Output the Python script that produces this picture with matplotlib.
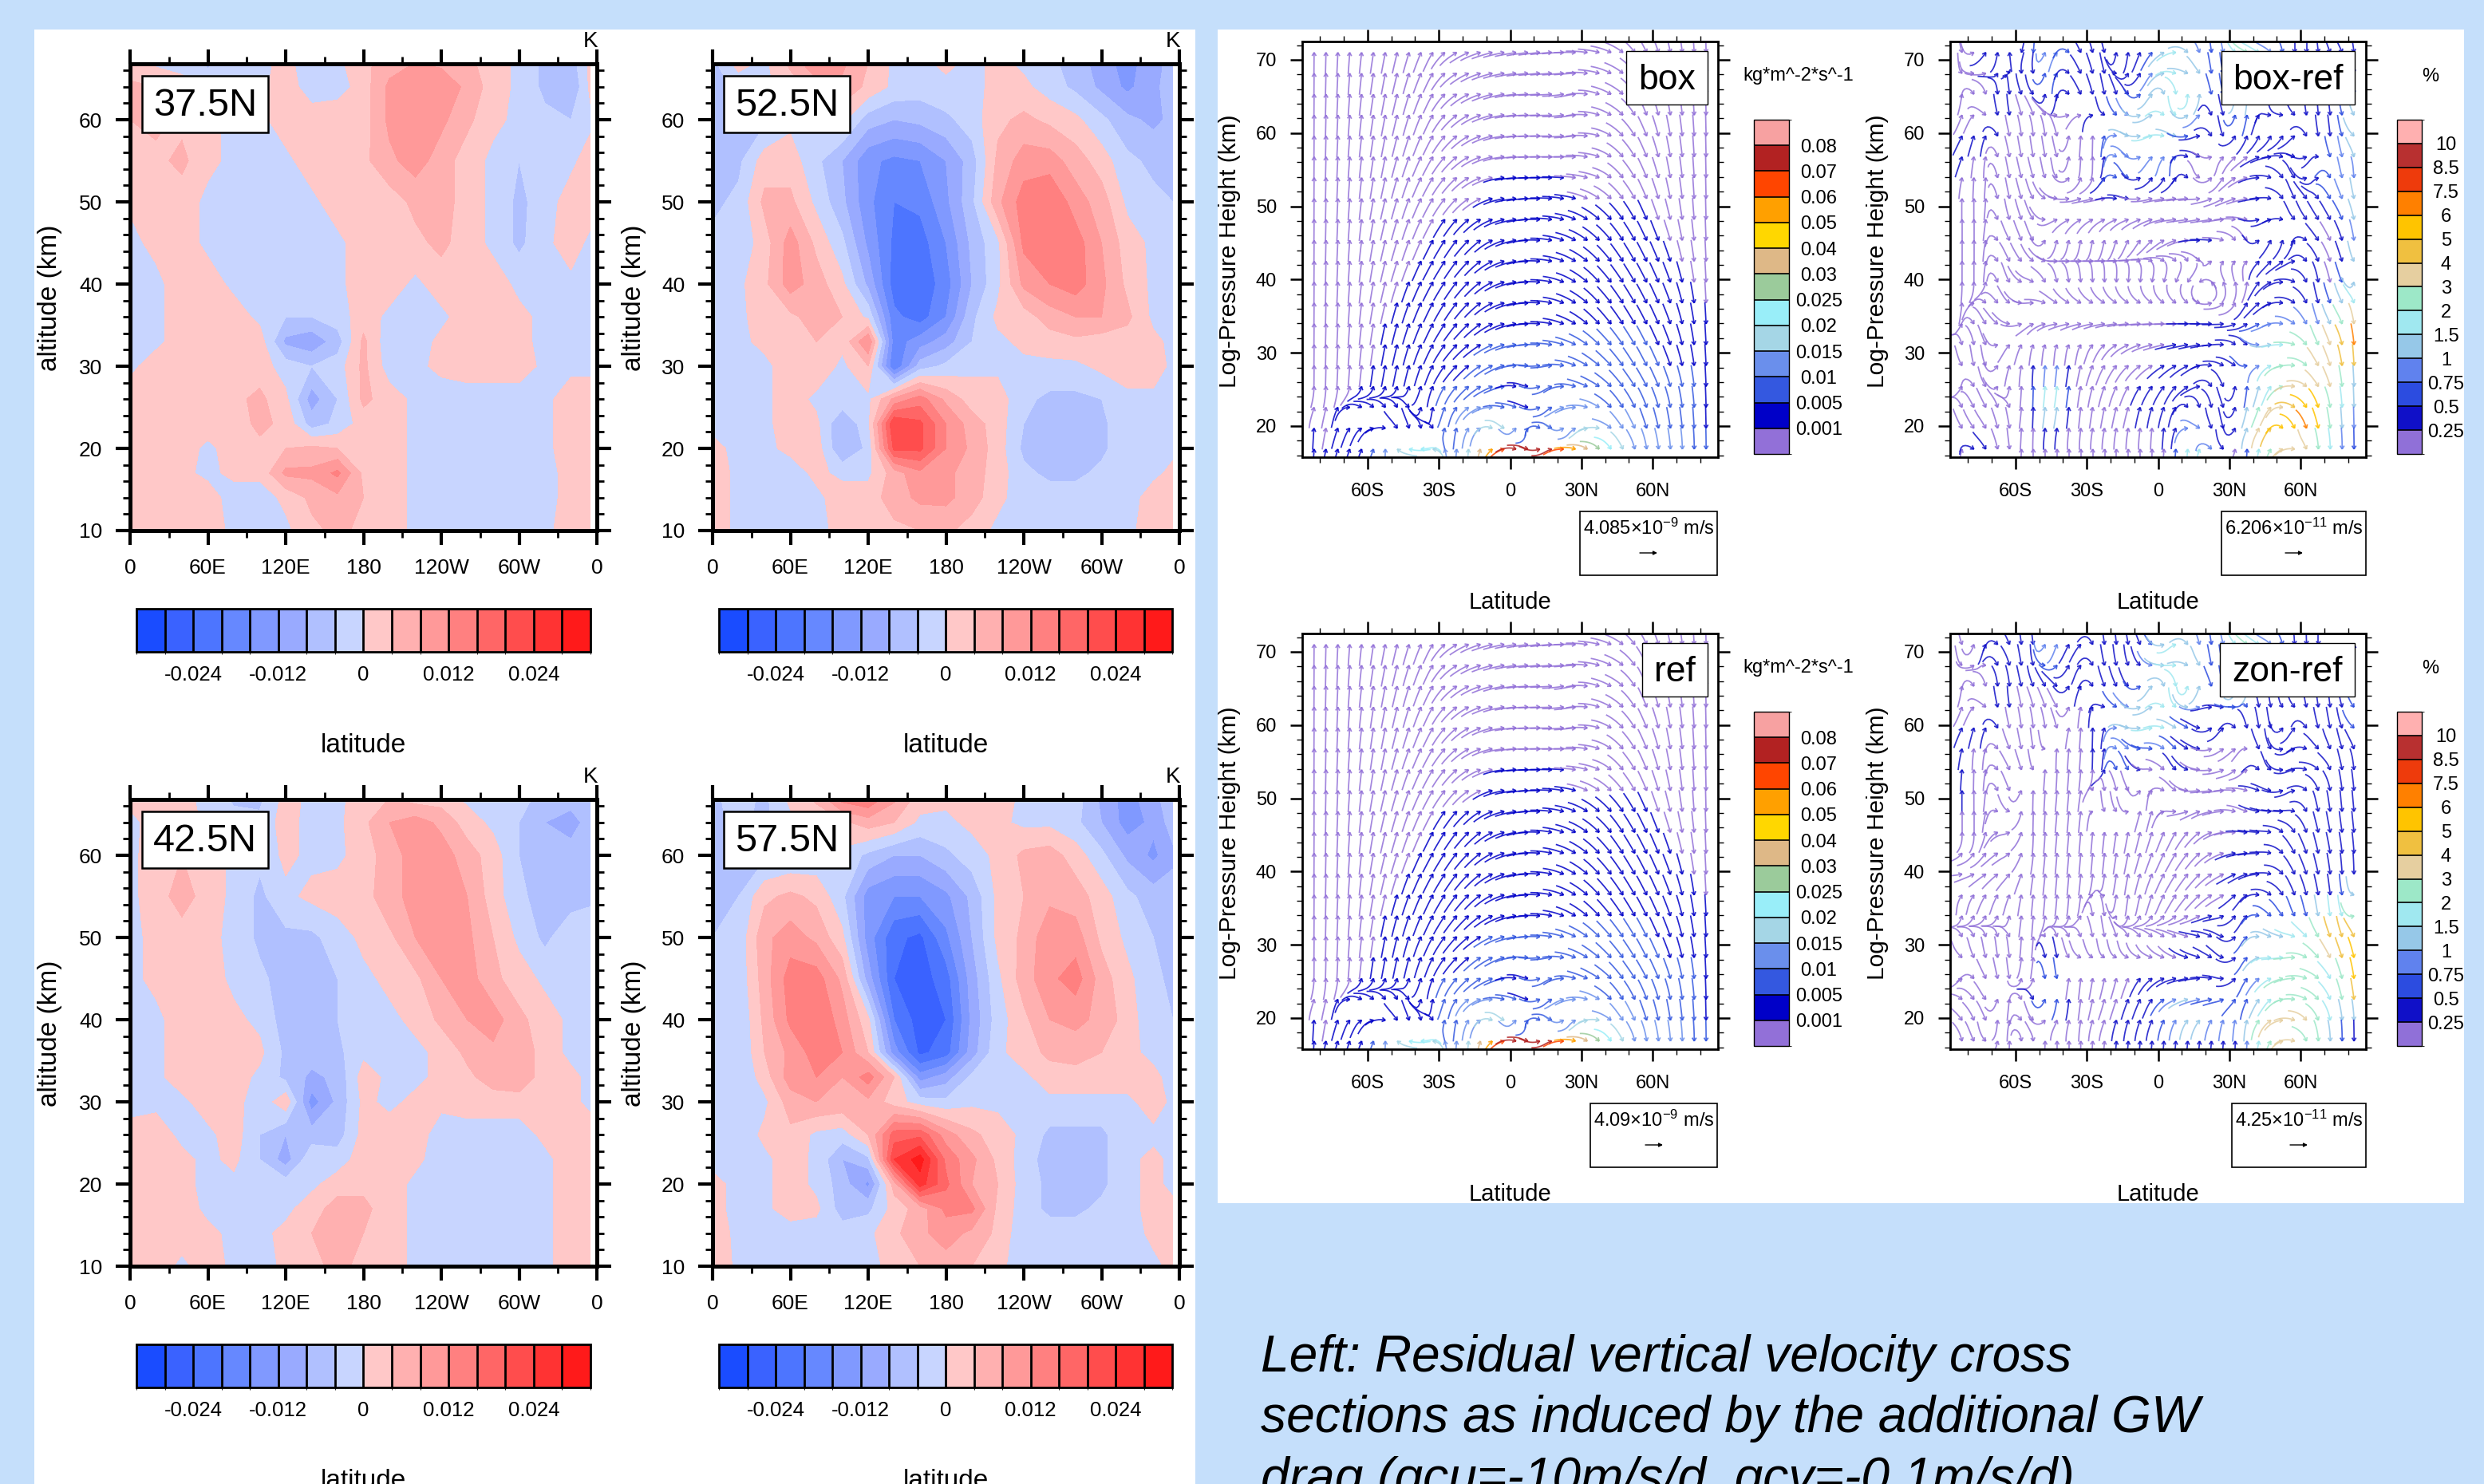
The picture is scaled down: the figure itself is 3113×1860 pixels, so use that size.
"""Residual vertical velocity cross sections and curly vector panels"""
import numpy as np
import matplotlib
matplotlib.use('Agg')
import matplotlib.pyplot as plt
from matplotlib.collections import LineCollection
from matplotlib.colors import BoundaryNorm, ListedColormap
from matplotlib.colorbar import Colorbar
from matplotlib.patches import Rectangle, FancyArrowPatch
from matplotlib.ticker import MultipleLocator

plt.rcParams.update({
    'font.family': ['Liberation Sans', 'DejaVu Sans'],
    'mathtext.fontset': 'custom', 'mathtext.rm': 'Liberation Sans',
    'mathtext.default': 'regular', 'axes.unicode_minus': False,
})

W, H = 3113, 1860
BG = '#c5dffb'

# ---- left panels: w* (units of 0.001) ----
lon = [0, 20, 40, 60, 80, 100, 120, 140, 160, 180, 200, 220, 240, 260, 280, 300, 320, 340, 355]
alt = [10, 14, 17, 20, 23, 26, 30, 33, 36, 40, 45, 50, 55, 60, 64, 67]
cont_levels = np.arange(-32, 33, 4)
cont_colors = ['#1a4cff', '#3a62ff', '#4d75ff', '#6688ff', '#8099ff', '#99aaff', '#b0c0ff', '#c8d5ff',
               '#ffc8c8', '#ffb0b0', '#ff9999', '#ff8080', '#ff6666', '#ff4d4d', '#ff3333', '#ff1a1a']
cont_ticks = [-24, -12, 0, 12, 24]
lon_ticks = [0, 60, 120, 180, 240, 300, 360]
lon_labels = ['0', '60E', '120E', '180', '120W', '60W', '0']

w_375 = [
    [2, 2, 2, 2, -1, -2, -1, 3, 5, 3, 2, -1, -2, -2, -2, -2, -1, 2, 2],
    [2, 2, 2, 2, -2, -2, 1, 5, 7, 4, 2, -1, -2, -2, -2, -2, -1, 1, 2],
    [2, 2, 1, -1, 1, 1, 9, 9, 13, 3, 2, -1, -2, -2, -2, -2, -1, 1, 2],
    [2, 2, 2, -1, 2, 3, 4, 5, 4, 1, 2, -1, -2, -2, -2, -2, -1, 2, 2],
    [2, 2, 1, 2, 2, 5, 3, -6, -3, 2, 2, -1, -2, -2, -2, -2, -1, 2, 2],
    [2, 2, 2, 2, 3, 5, 1, -10, -4, 5, 2, -1, -2, -2, -2, -2, -1, 2, 2],
    [-1, 2, 2, 2, 2, 2, -2, -4, -2, 5, -2, -1, 1, 2, 2, 2, -1, -1, -1],
    [-1, -1, 2, 2, 2, 2, -9, -11, -6, 5, -3, -2, 1, 2, 2, 1, -1, -1, -1],
    [-1, -1, 2, 2, 2, -1, -4, -4, -2, 2, -1, -1, -1, 2, 2, 1, -1, -1, -1],
    [-1, -1, 2, 2, -1, -1, -3, -2, -1, 2, 2, -1, 2, 2, 2, -1, -1, -1, -1],
    [-1, 1, 2, -1, -1, -1, -1, -1, -1, 2, 2, 3, 5, 2, -1, -5, -1, 2, -1],
    [0.5, 2, 2, -1, -1, -1, -1, -1, 2, 2, 2, 5, 6, 2, -1, -5, -2, 2, 2],
    [2, 3, 5, 1, -1, -1, -1, 2, 3, 3, 7, 10, 6, 2, -1, -4, -1, -1, 2],
    [4, 5, 3, 1, -1, -1, 2, 2, 3, 2, 9, 10, 9, 5, 1, -1, -3, -4, -1],
    [5, 4, 2, -1, -1, -1, 2, -2, -2, 2, 9, 11, 11, 7, 2, -1, -5, -8, 1],
    [1, -1, -2, -5, -1, -1, 1, -2, -1, 3, 6, 8, 7, 5, 2, -1, -5, -6, 1],
]
w_525 = [
    [2, -1, -2, -2, -1, 1, 2, 3, 4, 5, 2, -1, -2, -2, -2, -2, -1, 2, 2],
    [2, -1, -2, -2, -1, 2, 2, 6, 9, 9, 6, 1, -2, -2, -2, -2, -2, 2, 2],
    [2, -1, -2, -2, 1, -1, -1, 6, 11, 9, 6, 2, -3, -5, -5, -3, -1, -1, 1],
    [1, -1, -1, 1, 2, -8, -3, 21, 21, 12, 7, 2, -5, -6, -6, -5, -1, -1, -1],
    [-1, -1, -1, 2, 1, -8, -1, 24, 21, 12, 6, 2, -4, -6, -6, -5, -1, -1, -1],
    [-1, -1, -1, 2, -1, -1, -1, 9, 14, 7, 2, 2, -3, -5, -5, -4, -1, -1, -1],
    [-1, -1, -1, 2, 3, -1, 4, -20, -6, -3, -1, -1, -1, -1, -1, 1, 2, 2, -1],
    [-1, -1, 1, 4, 4, 1, 12, -18, -14, -10, -4, -1, 1, 2, 3, 2, 2, 1, -1],
    [-2, -1, 2, 3, 6, 4, -1, -19, -22, -16, -5, 1, 2, 6, 8, 8, 5, -1, -3],
    [-3, -1, 3, 10, 6, 1, -9, -22, -23, -18, -8, -1, 9, 12, 14, 9, 3, -1, -3],
    [-3, -3, 2, 10, 3, -3, -13, -21, -22, -16, -7, -1, 13, 15, 14, 8, 2, -1, -3],
    [-5, -3, 5, 5, -1, -7, -15, -20, -19, -13, -5, 7, 14, 16, 10, 6, -1, -3, -4],
    [-6, -5, 2, 2, -3, -8, -15, -17, -16, -12, -6, 5, 10, 10, 6, 2, -3, -5, -6],
    [-7, -6, -5, -1, 1, 1, -6, -8, -7, -5, -2, 3, 5, 3, 1, -3, -7, -9, -7],
    [-6, -3, -1, 2, 6, 7, 3, -1, -2, -1, -1, 1, 1, -2, -5, -9, -13, -9, -6],
    [-5, 2, -1, 5, 12, 9, 4, -1, -1, 1, -1, 1, -1, -3, -6, -10, -14, -9, -7],
]
w_425 = [
    [2, 2, -1, 2, -1, -1, 0.5, 3, 5, 3, 2, -1, -2, -2, -2, -2, -1, 2, 2],
    [2, 2, 2, 1, -1, -1, 1, 4, 6, 4, 2, -1, -2, -2, -2, -2, -1, 2, 2],
    [2, 2, 2, -1, -1, -4, -1, 2, 6, 5, 2, -1, -2, -2, -2, -2, -1, 2, 2],
    [2, 2, 1, -1, -1, -2, -2, -1, 2, 3, 2, -1, -2, -2, -2, -2, -1, 2, 2],
    [2, 2, 1, -1, 1, -4, -10, -1, -2, 2, 2, 1, -2, -2, -2, -2, -1, 2, 2],
    [1, 2, -1, -1, 2, -4, -8, -6, -6, 1.5, 2, 2, -2, -2, -2, -2, 1, 2, 2],
    [-1, -1, -1, 2, 2, -3, 3, -14, -7, 1, -1, 1, 1, 2, 2, 2, 2, 1, -1],
    [-1, -1, 2, 2, 2, -1, -5, -9, -7, 2, -1, -1, 1, 3, 6, 7, 2, 1, -1],
    [-1, -1, 2, 2, 2, 1, -5, -6, -5, -1, -1, -1, 1, 5, 7, 7, 2, -1, -1],
    [-1, -1, 2, 2, 1, -1, -6, -5, -4, -1, -1, 1, 5, 8, 10, 5, 2, -1, -1],
    [-1, 1, 2, 2, -1, -3, -6, -5, -4, -1, 1, 3, 8, 10, 5, 2, -1, -1, -1],
    [-1, 1, 2, 1, -1, -5, -5, -5, -2, 1, 3, 8, 12, 9, 4, -1, -5, -1, -1],
    [-1, 2, 6, 2, -1, -5, -1, 1, 2, 2, 7, 9, 11, 8, 2, -3, -6, -6, -5],
    [-1, 2, 4, 2, -1, -3, 1, -1, -1, 2, 6, 10, 10, 6, 2, -4, -5, -7, -7],
    [-2, 3, 2, -1, -2, -3, 2, -2, -1, 3, 8, 10, 7, 2, -1, -4, -8, -9, -7],
    [2, 3, 1, -1, -5, -5, 1.5, -1, -1, 2, 4, 2, 2, -1, -1, -2, -6, -7, -5],
]
w_575 = [
    [3, -1, -2, -2, -2, -2, -1, 1, 4, 6, 4, 1, -2, -2, -2, -2, -1, -1, 1],
    [2, -1, -2, -2, -2, -2, -1, 3, 7, 10, 7, 3, -3, -2, -2, -2, -2, 1, 1],
    [1, -1, -1, 2, 1, -6, -5, 1.5, 6, 13, 13, 3, -2, -5, -5, -3, -1, 1, 1],
    [1, -1, -1, 2, -1, -6, -13, 6, 26, 17, 8, 4, -2, -5, -6, -5, -1, 1, -1],
    [-1, -1, -1, 2, -1, -8, -5, 24, 30, 15, 9, 3, -2, -6, -6, -5, -1, 1, -1],
    [-1, -3, 1, 3, -1, -2, 4, 18, 19, 10, 5, 2, -1, -5, -5, -5, -1, -1, -1],
    [-3, -4, -1, 6, 8, 7, 7, 2, -2, -3, -1, -1, -1, -1, -1, -1, -1, 2, -1],
    [-3, -4, 2, 10, 12, 8, 14, 4, -14, -10, -3, -1, -1, 2, 2, 2, 2, 2, -3],
    [-3, -4, 4, 9, 14, 12, 4, -14, -25, -22, -10, -1, 2, 5, 6, 4, 2, -2, -4],
    [-3, -4, 5, 13, 16, 10, 1, -20, -26, -24, -11, -2, 3, 8, 9, 7, 2, -3, -4],
    [-3, -3, 6, 14, 14, 7, -10, -24, -26, -22, -10, -1, 6, 11, 14, 6, 1, -3, -5],
    [-4, -3, 7, 10, 7, 1, -14, -23, -25, -17, -8, 1, 5, 11, 10, 3, -1, -4, -7],
    [-5, -4, 3, 5, 3, -3, -14, -16, -16, -13, -7, 1, 4, 7, 6, 2, -3, -6, -6],
    [-6, -6, -5, -4, -3, -1, -5, -8, -8, -5, -2, 1, 5, 6, 2, -3, -9, -13, -9],
    [-5, -3, -5, -1, 1, 3, 6, 4, -1, -1, 1, 1, -1, -1, -3, -8, -14, -11, -6],
    [-5, -2, -5, 1, 5, 14, 16, 9, 2, 1, 3, 2, -1, -1, -2, -9, -14, -9, -6],
]

# ---- right panels: direction (deg) and colour value on a coarse grid ----
vec_lat = [-85, -75, -65, -55, -45, -35, -25, -15, -5, 5, 15, 25, 35, 45, 55, 65, 75, 85]
vec_z = [16.85, 19, 22, 26, 30, 35, 40, 45, 50, 55, 60, 65, 70]
lat_ticks = [-60, -30, 0, 30, 60]
lat_labels = ['60S', '30S', '0', '30N', '60N']

flux_bounds = [0, .001, .005, .01, .015, .02, .025, .03, .04, .05, .06, .07, .08, .1]
flux_colors = ['#9270d8', '#0000c8', '#3458e0', '#6a8fec', '#a5d6e6', '#99eef9', '#9bcb9b',
               '#deb887', '#ffd700', '#ffa000', '#ff4500', '#b22222', '#f7a1a1']
flux_labels = ['0.001', '0.005', '0.01', '0.015', '0.02', '0.025', '0.03', '0.04', '0.05', '0.06', '0.07', '0.08']
pct_bounds = [0, .25, .5, .75, 1, 1.5, 2, 3, 4, 5, 6, 7.5, 8.5, 10, 12]
pct_colors = ['#9070d8', '#1010c8', '#2c4ce0', '#6082ee', '#96c8e8', '#a0e8f0', '#9de8c8',
              '#e6cfa0', '#f0c040', '#ffc400', '#ff8000', '#ee3b0c', '#b83030', '#ffb0b0']
pct_labels = ['0.25', '0.5', '0.75', '1', '1.5', '2', '3', '4', '5', '6', '7.5', '8.5', '10']

box_ang = [
    [90, 75, 70, 70, 160, -170, 85, 85, 30, -30, 30, -10, -40, -60, -80, -85, -90, -90],
    [90, 75, 60, 25, -70, -85, 85, 60, -50, 90, -70, 50, 10, -50, -70, -80, -85, -90],
    [70, 80, -30, -55, -70, 85, 65, 30, -15, -25, 40, 15, -25, -55, -70, -78, -85, -90],
    [90, 88, 85, 80, 78, 70, 50, 40, 25, -20, 30, -15, -30, -50, -60, -70, -80, -90],
    [90, 88, 85, 80, 75, 65, 50, 35, 20, 5, -5, -20, -40, -52, -62, -68, -78, -90],
    [90, 88, 85, 78, 72, 65, 55, 42, 22, 5, -8, -28, -45, -55, -62, -68, -78, -90],
    [90, 88, 85, 78, 70, 62, 55, 42, 22, 5, -8, -28, -45, -55, -62, -68, -78, -90],
    [90, 88, 85, 78, 72, 64, 55, 42, 22, 6, -8, -25, -42, -55, -63, -70, -80, -90],
    [90, 88, 85, 78, 72, 62, 50, 32, 14, 5, -3, -15, -35, -50, -65, -75, -85, -90],
    [90, 88, 85, 80, 72, 62, 45, 25, 8, 1, 0, -3, -15, -45, -65, -78, -85, -90],
    [90, 88, 85, 80, 75, 65, 45, 25, 10, 2, 0, 8, -10, -40, -65, -78, -85, -90],
    [90, 88, 85, 80, 75, 65, 40, 22, 12, 3, 2, 12, -15, -35, -65, -78, -85, -90],
    [90, 88, 85, 80, 75, 65, 35, 20, 12, 8, 5, 0, -10, -30, -60, -75, -85, -90],
]
P, D, M, C, L, K = .0005, .003, .007, .012, .017, .022
box_val = [
    [D, P, D, M, K, K, C, K, .065, .075, .075, .065, .03, K, C, C, C, D],
    [D, P, D, D, D, D, M, C, K, C, M, C, K, C, C, M, M, D],
    [P, P, D, D, D, D, M, C, C, D, M, C, C, M, M, M, M, D],
    [P, P, P, D, D, D, M, M, M, D, M, M, M, M, M, M, M, D],
    [P, P, P, P, D, D, D, D, M, M, M, M, M, M, M, D, D, P],
    [P, P, P, P, D, D, D, D, D, D, D, D, D, D, D, D, D, P],
    [P, P, P, P, P, D, D, D, D, D, D, D, D, D, D, D, P, P],
    [P, P, P, P, P, P, D, D, D, D, D, D, D, D, D, P, P, P],
    [P, P, P, P, P, P, P, P, D, D, D, D, P, P, P, P, P, P],
    [P] * 18, [P] * 18, [P] * 18, [P] * 18,
]
# ref is the same circulation as box, to within what the picture shows
ref_ang = box_ang
ref_val = box_val

boxref_ang = [
    [90, -50, -85, 90, 90, 90, 90, 90, 90, 85, 85, -60, 90, 75, 10, -85, -90, -90],
    [-60, -50, -85, 90, 80, 85, 80, 80, 85, 85, 0, -85, 70, 60, -70, -75, -85, -90],
    [-70, -60, -80, 90, 80, 85, 80, 75, 75, 70, -80, -80, 80, 65, -30, -70, -85, -90],
    [85, -70, 80, 90, 85, 80, 70, 60, 50, 50, 40, -70, 90, 70, 10, -50, -80, -90],
    [-75, -85, 60, 80, 85, 80, 60, 35, 20, 15, 15, 5, -75, 10, 0, -60, -75, -90],
    [90, -60, -40, 20, -5, -2, -2, -2, -2, -3, -5, 0, 50, 30, -30, -75, -60, -85],
    [90, 90, -75, -20, -75, -85, -90, -95, -100, -110, -130, 120, 100, 40, -10, -80, -75, 85],
    [90, 90, -60, -70, 75, 80, 80, 70, 50, 25, 0, -10, -70, 60, 80, -50, -70, -85],
    [90, 90, -80, -70, -5, 5, 0, -5, 5, -5, 15, 20, 10, 5, -70, -60, -60, -80],
    [70, 90, -80, -75, -80, 85, 90, -60, 60, 90, -70, 75, 30, -10, -65, 70, -75, -90],
    [60, 75, -75, -85, -80, 85, 90, -30, 20, -30, 30, -80, 75, 70, 60, -80, -85, -30],
    [90, -70, -90, -60, 90, -60, -80, -70, 60, -90, 90, -80, 90, -90, -85, -90, -80, -80],
    [-90, 45, 90, -100, 70, -60, -80, 85, 60, 20, -60, -90, -30, -30, -90, -90, -60, -90],
]
p, d, r, c, lb, cy, mi, ta, go, ye, ot, re = .1, .3, .6, .9, 1.2, 1.7, 2.5, 3.5, 4.5, 5.5, 6.5, 8
boxref_val = [
    [p, d, p, p, p, p, p, p, p, p, mi, d, p, mi, ta, ta, lb, d],
    [p, d, p, p, p, p, p, p, p, d, lb, d, d, go, ye, ot, cy, d],
    [p, p, p, p, lb, p, p, p, d, d, d, d, d, ta, go, ot, cy, c],
    [p, p, p, p, mi, p, p, p, d, d, d, d, d, lb, mi, ta, ta, c],
    [p, p, p, p, p, p, p, p, p, d, d, d, d, lb, mi, mi, go, re],
    [p, p, p, p, p, p, p, p, p, p, d, d, d, r, r, d, c, mi],
    [p, p, p, p, p, p, p, p, p, p, p, p, p, d, d, d, p, cy],
    [p, p, p, p, p, p, p, p, p, p, d, d, p, d, d, d, p, lb],
    [p, p, p, p, p, p, p, d, p, p, p, p, p, d, d, d, r, lb],
    [d, p, p, p, p, p, p, c, d, d, d, p, p, d, d, d, c, c],
    [d, d, d, p, p, p, d, lb, cy, cy, d, d, d, d, d, d, d, cy],
    [p, p, d, d, d, d, d, d, c, cy, cy, d, lb, d, d, d, d, c],
    [p, d, d, d, lb, d, d, d, d, cy, lb, d, mi, lb, d, d, d, d],
]
zonref_ang = [
    [-80, -60, 90, -85, 90, 90, 85, 85, 85, 85, 85, 85, 90, 75, 0, -85, -90, -90],
    [-50, -80, 90, -60, 60, 85, 70, 75, 70, 70, 60, 75, 85, 50, -10, -70, -85, -90],
    [-40, -60, 90, -75, 80, 85, 75, 70, 65, 30, 15, 15, 70, 55, 0, -40, -75, -85],
    [70, -60, -85, 85, -85, 85, 80, 75, 40, 15, 5, -20, 60, 30, 10, -30, -70, -85],
    [-70, -80, -85, 90, -80, -70, -80, -75, -60, -50, -30, -50, 60, -20, 5, -50, -70, -75],
    [85, 70, 75, 85, 85, 85, -85, 85, 75, 60, 45, 30, 60, -40, -70, -80, -85, 60],
    [0, 30, 40, 80, 85, 85, 85, 80, 70, 60, 50, 30, 20, 0, -60, -75, -85, -90],
    [90, 90, 10, 90, 85, 85, 85, 80, 75, 65, 45, 15, -5, -2, -55, -75, -80, -85],
    [90, 90, -75, 90, 85, 85, -85, -75, 85, -40, 10, 5, -30, -10, 30, -75, -85, -85],
    [80, 90, -60, -80, 90, 85, 90, -70, -10, -60, -20, 20, 70, -70, 20, -20, -75, -85],
    [60, 75, -75, -85, -80, 85, 90, -20, 20, -30, -30, 60, -70, -85, 70, -75, -80, -30],
    [90, -70, -90, -70, -60, 75, -70, -60, 60, -90, 80, -80, 90, -80, -85, -85, -85, -60],
    [-80, 80, -60, -90, 70, 60, -80, -85, -60, 40, -70, -85, -40, -30, -85, -90, 90, 90],
]
zonref_val = [
    [p, p, p, p, p, p, p, d, d, d, d, d, d, mi, ta, mi, r, d],
    [p, p, p, p, p, p, p, d, d, r, lb, c, c, ta, go, ta, c, r],
    [p, p, p, p, c, p, p, d, d, c, lb, r, r, lb, mi, mi, lb, go],
    [p, p, p, p, r, p, p, p, d, d, d, d, d, lb, mi, mi, lb, re],
    [p, p, p, p, p, p, p, p, p, p, d, d, d, cy, cy, mi, ot, go],
    [p, p, p, p, p, p, p, p, p, p, p, d, d, d, d, d, r, cy],
    [p, p, p, p, p, p, p, p, p, p, p, p, d, d, d, d, d, d],
    [p, p, p, p, p, p, p, p, p, p, p, p, d, d, d, d, d, d],
    [d, p, p, p, p, p, p, p, p, p, p, p, p, d, d, d, d, d],
    [d, p, p, p, p, p, d, c, p, d, d, p, p, d, d, d, d, d],
    [d, d, d, p, p, p, d, c, cy, cy, d, d, d, d, d, d, d, c],
    [p, p, d, d, d, d, d, d, c, cy, cy, d, lb, d, d, d, d, r],
    [p, d, d, d, c, d, d, d, d, cy, lb, d, mi, lb, d, d, d, d],
]

fig = plt.figure(figsize=(W / 100, H / 100), dpi=100, facecolor=BG)


def new_axes(l, t, r, b):
    return fig.add_axes([l / W, 1 - b / H, (r - l) / W, (b - t) / H])


def put(x, y, s, **kw):
    kw.setdefault('ha', 'center')
    kw.setdefault('va', 'center')
    fig.text(x / W, 1 - y / H, s, **kw)


def frame(l, t, r, b, lw=1.5, ec='black', fc='white', z=2):
    fig.add_artist(Rectangle((l / W, 1 - b / H), (r - l) / W, (b - t) / H, transform=fig.transFigure,
                             fc=fc, ec=ec, lw=lw, zorder=z))


def bilinear(field, la, z):
    i = np.interp(la, vec_lat, np.arange(len(vec_lat)))
    j = np.interp(z, vec_z, np.arange(len(vec_z)))
    i0, j0 = min(int(i), len(vec_lat) - 2), min(int(j), len(vec_z) - 2)
    a, b = i - i0, j - j0
    return ((1 - a) * (1 - b) * field[j0, i0] + a * (1 - b) * field[j0, i0 + 1]
            + (1 - a) * b * field[j0 + 1, i0] + a * b * field[j0 + 1, i0 + 1])


def curly(ax, ang, val, bounds, colors, px_deg, px_km):
    """curly vectors: walk back along the direction field from each head"""
    rad = np.radians(np.array(ang, float))
    cs, sn = np.cos(rad), np.sin(rad)
    val = np.array(val, float)
    norm = BoundaryNorm(bounds, len(colors))
    cmap = ListedColormap(colors)
    segs, cols = [], []
    for z0 in np.arange(71, 16, -2.85):
        for la0 in np.arange(-82.5, 83, 5):
            col = cmap(norm(bilinear(val, la0, z0)))
            la, z = la0, z0
            pts = [(la, z)]
            for n in range(9):
                dx, dy = bilinear(cs, la, z), bilinear(sn, la, z)
                m = np.hypot(dx, dy) + 1e-6
                la -= 3 * dx / m / px_deg
                z -= 3 * dy / m / px_km
                pts.append((la, z))
            segs.append(pts)
            cols.append(col)
            # head barbs
            dx, dy = bilinear(cs, la0, z0), bilinear(sn, la0, z0)
            th = np.arctan2(dy, dx)
            for off in (2.6, -2.6):
                segs.append([(la0, z0), (la0 + 5 * np.cos(th + off) / px_deg, z0 + 5 * np.sin(th + off) / px_km)])
                cols.append(col)
    ax.add_collection(LineCollection(segs, colors=cols, linewidths=1.25, alpha=0.85))


# white backing
frame(43, 37, 1498, 1870, lw=0, ec='none', z=-1)
frame(1526, 37, 3088, 1508, lw=0, ec='none', z=-1)

# ---- left panels ----
left_panels = [
    (w_375, '37.5N', 163, 80, (178, 95, 336, 166), 63, (171, 740)),
    (w_525, '52.5N', 893, 80, (907, 95, 1065, 166), 794, (901, 1469)),
    (w_425, '42.5N', 163, 1002, (178, 1017, 336, 1088), 63, (171, 740)),
    (w_575, '57.5N', 893, 1002, (907, 1017, 1065, 1088), 794, (901, 1469)),
]
for data, name, x0, y0, lab, ylab_x, bar in left_panels:
    x1, y1 = x0 + 585, y0 + 585
    ax = new_axes(x0, y0, x1, y1)
    ax.contourf(lon, alt, np.array(data, float), levels=cont_levels, colors=cont_colors, extend='both')
    ax.set_xlim(0, 360)
    ax.set_ylim(10, 66.8)
    ax.set_xticks(lon_ticks, lon_labels)
    ax.xaxis.set_minor_locator(MultipleLocator(30))
    ax.yaxis.set_major_locator(MultipleLocator(10))
    ax.yaxis.set_minor_locator(MultipleLocator(2))
    ax.tick_params(which='major', length=13, width=3, labelsize=19, pad=12, top=True, right=True)
    ax.tick_params(which='minor', length=6.5, width=2, top=True, right=True)
    for sp in ax.spines.values():
        sp.set_linewidth(3.6)
    put(ylab_x, y0 + 293, 'altitude (km)', rotation=90, fontsize=24)
    put(x1 - 8, y0 - 28, 'K', fontsize=20)
    put((x0 + x1) / 2, y0 + 854, 'latitude', fontsize=24)
    frame(*lab, lw=1.8)
    put((lab[0] + lab[2]) / 2, (lab[1] + lab[3]) / 2 + 2, name, fontsize=35, zorder=5)

    cax = new_axes(bar[0], y0 + 683, bar[1], y0 + 737)
    cb = Colorbar(cax, cmap=ListedColormap(cont_colors), norm=BoundaryNorm(cont_levels, 16),
                  orientation='horizontal', drawedges=True, ticks=cont_ticks)
    cb.outline.set_linewidth(2)
    cb.dividers.set_linewidth(2)
    cb.set_ticklabels(['-0.024', '-0.012', '0', '0.012', '0.024'])
    cax.tick_params(length=0, labelsize=18.5, pad=12)

# ---- right panels ----
right_panels = [
    (box_ang, box_val, 'box', 1632, 52, (2038, 64, 2140, 131), (1980, 641, 2152, 721), 2066,
     r'4.085×10$^{-9}$ m/s', 0),
    (boxref_ang, boxref_val, 'box-ref', 2444, 52, (2784, 64, 2951, 131), (2784, 641, 2965, 721), 2875,
     r'6.206×10$^{-11}$ m/s', 1),
    (ref_ang, ref_val, 'ref', 1632, 794, (2058, 806, 2140, 873), (1993, 1383, 2152, 1463), 2073,
     r'4.09×10$^{-9}$ m/s', 0),
    (zonref_ang, zonref_val, 'zon-ref', 2444, 794, (2782, 806, 2951, 873), (2797, 1383, 2965, 1463), 2881,
     r'4.25×10$^{-11}$ m/s', 1),
]
for ang, val, name, x0, y0, lab, ref, rx, rtxt, is_pct in right_panels:
    x1, y1 = x0 + 521, y0 + 521
    ax = new_axes(x0, y0, x1, y1)
    bounds = pct_bounds if is_pct else flux_bounds
    colors = pct_colors if is_pct else flux_colors
    curly(ax, ang, val, bounds, colors, 521 / 175, 459 / 50)
    ax.set_xlim(-87.5, 87.5)
    ax.set_ylim(15.75, 72.5)
    ax.set_xticks(lat_ticks, lat_labels)
    ax.xaxis.set_minor_locator(MultipleLocator(10))
    ax.yaxis.set_major_locator(MultipleLocator(10))
    ax.yaxis.set_minor_locator(MultipleLocator(2))
    ax.tick_params(which='major', length=11, width=1.8, labelsize=17, pad=12, top=True, right=True)
    ax.tick_params(which='minor', length=5, width=1, top=True, right=True)
    for sp in ax.spines.values():
        sp.set_linewidth(2)
    put(x0 - 91, y0 + 263, 'Log-Pressure Height (km)', rotation=90, fontsize=21.5)
    put((x0 + x1) / 2, y0 + 703, 'Latitude', fontsize=21)
    frame(*lab, lw=1)
    put((lab[0] + lab[2]) / 2, (lab[1] + lab[3]) / 2 + 3, name, fontsize=32, zorder=5)
    frame(*ref, lw=1.2)
    put(rx, ref[1] + 21, rtxt, fontsize=17, zorder=5)
    fig.add_artist(FancyArrowPatch(((rx - 11) / W, 1 - (ref[1] + 52) / H), ((rx + 11) / W, 1 - (ref[1] + 52) / H),
                                   transform=fig.transFigure, arrowstyle='-|>', mutation_scale=7, lw=1,
                                   color='black', shrinkA=0, shrinkB=0, zorder=5))

    if is_pct:
        cax = new_axes(3004, y0 + 98, 3035, y0 + 517)
        labels, pad = pct_labels, 22
        put(3046, y0 + 44, '%', fontsize=17)
    else:
        cax = new_axes(2198, y0 + 98, 2242, y0 + 517)
        labels, pad = flux_labels, 27
        put(2254, y0 + 43, 'kg*m^-2*s^-1', fontsize=17)
    cb = Colorbar(cax, cmap=ListedColormap(colors), norm=BoundaryNorm(bounds, len(colors)),
                  orientation='vertical', spacing='uniform', drawedges=True, ticks=bounds[1:-1])
    cb.outline.set_linewidth(1)
    cb.dividers.set_linewidth(1.2)
    cb.set_ticklabels(labels)
    cax.tick_params(length=0, labelsize=17, pad=pad)
    for t in cax.get_yticklabels():
        t.set_ha('center')

# ---- caption ----
caption = ['Left: Residual vertical velocity cross', 'sections as induced by the additional GW',
           'drag (gcu=-10m/s/d, gcv=-0.1m/s/d)']
for line, yy in zip(caption, [1702, 1778, 1855]):
    put(1580, yy, line, ha='left', fontsize=46.2, style='italic')

fig.savefig('out.png', dpi=100, facecolor=BG)
